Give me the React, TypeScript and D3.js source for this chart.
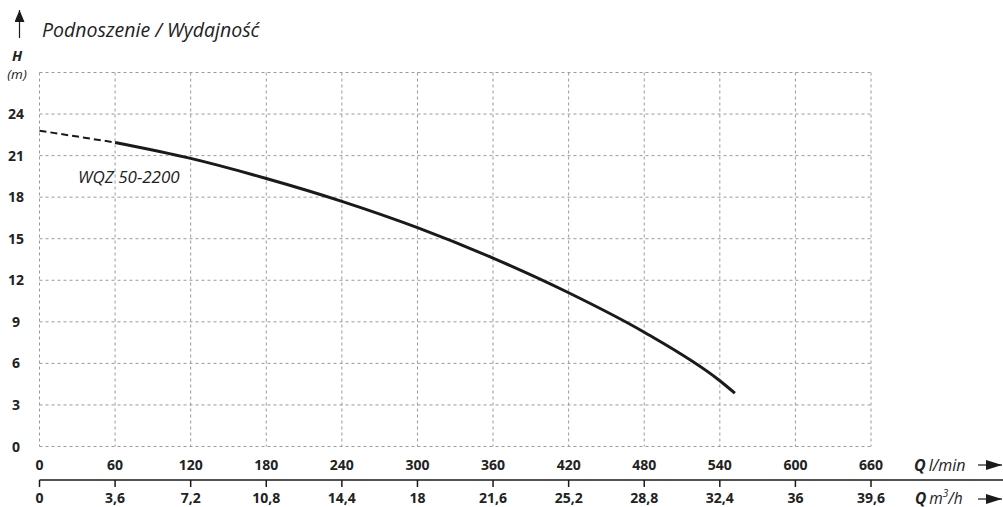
import { line, curveMonotoneX, scaleLinear } from "d3";

const flowLpm = [0, 60, 120, 180, 240, 300, 360, 420, 480, 540, 552];
const headM = [22.8, 21.95, 20.8, 19.35, 17.7, 15.8, 13.6, 11.1, 8.25, 4.75, 3.85];

const headTicks = [0, 3, 6, 9, 12, 15, 18, 21, 24];
const headGrid = [0, 3, 6, 9, 12, 15, 18, 21, 24, 27];
const lpmTicks = [0, 60, 120, 180, 240, 300, 360, 420, 480, 540, 600, 660];
const m3hTicks = [0, 3.6, 7.2, 10.8, 14.4, 18, 21.6, 25.2, 28.8, 32.4, 36, 39.6];

const TITLE = "Podnoszenie / Wydajność";
const SERIES_LABEL = "WQZ 50-2200";

const WIDTH = 1003;
const HEIGHT = 507;
const PLOT_LEFT = 39.5;
const PLOT_RIGHT = 871;
const PLOT_TOP = 72.5;
const PLOT_BOTTOM = 446.5;
const M3H_AXIS_Y = 480;
const FONT = "'Open Sans', 'Noto Sans', sans-serif";

type Point = { q: number; h: number };

export default function App() {
  const x = scaleLinear().domain([0, 660]).range([PLOT_LEFT, PLOT_RIGHT]);
  const xm3h = scaleLinear().domain([0, 39.6]).range([PLOT_LEFT, PLOT_RIGHT]);
  const y = scaleLinear().domain([0, 27]).range([PLOT_BOTTOM, PLOT_TOP]);

  const points: Point[] = flowLpm.map((q, i) => ({ q, h: headM[i] }));
  const curve = line<Point>()
    .x((p) => x(p.q))
    .y((p) => y(p.h))
    .curve(curveMonotoneX);

  // dashed stretch before the working range, solid after
  const dashedPath = curve(points.slice(0, 2)) ?? "";
  const solidPath = curve(points.slice(1)) ?? "";

  return (
    <>
      <style>{`body{margin:0}`}</style>
      <svg width={WIDTH} height={HEIGHT} viewBox={`0 0 ${WIDTH} ${HEIGHT}`} style={{ display: "block", fontFamily: FONT }}>
        <defs>
          <marker id="arrowHead" viewBox="0 0 10 12" refX="5" refY="0" markerWidth="10" markerHeight="12" markerUnits="userSpaceOnUse" orient="0">
            <path d="M5,0 L10,12 L0,12 z" fill="#1a1a1a" />
          </marker>
          <marker id="arrowHeadRight" viewBox="0 0 16 10" refX="16" refY="5" markerWidth="16" markerHeight="10" markerUnits="userSpaceOnUse" orient="auto">
            <path d="M0,0 L16,5 L0,10 z" fill="#1a1a1a" />
          </marker>
        </defs>

        {/* grid */}
        <g stroke="#9a9a9a" strokeWidth={1} strokeDasharray="3,3">
          {headGrid.map((h) => (
            <line key={`h${h}`} x1={PLOT_LEFT} x2={PLOT_RIGHT} y1={y(h)} y2={y(h)} />
          ))}
          {lpmTicks.map((q) => (
            <line key={`v${q}`} x1={x(q)} x2={x(q)} y1={PLOT_TOP} y2={PLOT_BOTTOM} />
          ))}
        </g>

        {/* y axis */}
        <g fontSize={14} fontWeight={700} fill="#222" textAnchor="middle">
          {headTicks.map((h) => (
            <text key={h} x={16} y={y(h)} dy="0.36em">
              {h}
            </text>
          ))}
        </g>
        <line x1={19.5} x2={19.5} y1={38} y2={10} stroke="#1a1a1a" strokeWidth={1.2} markerEnd="url(#arrowHead)" />
        <text x={42} y={37} fontSize={19.5} fontStyle="italic" fill="#222">
          {TITLE}
        </text>
        <text x={17} y={61} fontSize={14.5} fontWeight={700} fontStyle="italic" fill="#222" textAnchor="middle">
          H
        </text>
        <text x={17} y={79} fontSize={13.5} fontStyle="italic" fill="#222" textAnchor="middle">
          (m)
        </text>

        {/* l/min labels */}
        <g fontSize={14} fontWeight={700} fill="#222" textAnchor="middle">
          {lpmTicks.map((q) => (
            <text key={q} x={x(q)} y={465} dy="0.36em">
              {q}
            </text>
          ))}
        </g>
        <text x={914} y={470.5} fontSize={16} fill="#222" fontStyle="italic">
          <tspan fontWeight={700}>Q</tspan>
          <tspan dx={3}>l/min</tspan>
        </text>
        <line x1={978} x2={1002} y1={465} y2={465} stroke="#1a1a1a" strokeWidth={1.2} markerEnd="url(#arrowHeadRight)" />

        {/* m3/h axis */}
        <line x1={PLOT_LEFT} x2={WIDTH} y1={M3H_AXIS_Y} y2={M3H_AXIS_Y} stroke="#1a1a1a" strokeWidth={1.5} />
        <g stroke="#1a1a1a" strokeWidth={1.5}>
          {m3hTicks.map((v) => (
            <line key={v} x1={xm3h(v)} x2={xm3h(v)} y1={M3H_AXIS_Y} y2={M3H_AXIS_Y + 7} />
          ))}
        </g>
        <g fontSize={14} fontWeight={700} fill="#222" textAnchor="middle">
          {m3hTicks.map((v) => (
            <text key={v} x={xm3h(v)} y={498} dy="0.36em">
              {String(v).replace(".", ",")}
            </text>
          ))}
        </g>
        <text x={915} y={503.5} fontSize={15.5} fill="#222" fontStyle="italic">
          <tspan fontWeight={700}>Q</tspan>
          <tspan dx={3}>m</tspan>
          <tspan fontSize={10} dy={-7}>3</tspan>
          <tspan dy={7}>/h</tspan>
        </text>
        <line x1={978} x2={1002} y1={499} y2={499} stroke="#1a1a1a" strokeWidth={1.2} markerEnd="url(#arrowHeadRight)" />

        {/* curve */}
        <path d={dashedPath} fill="none" stroke="#1a1a1a" strokeWidth={2} strokeDasharray="7,4" />
        <path d={solidPath} fill="none" stroke="#1a1a1a" strokeWidth={3} strokeLinecap="butt" />
        <text x={78} y={183} fontSize={17} fontStyle="italic" fill="#222">
          {SERIES_LABEL}
        </text>
      </svg>
    </>
  );
}
